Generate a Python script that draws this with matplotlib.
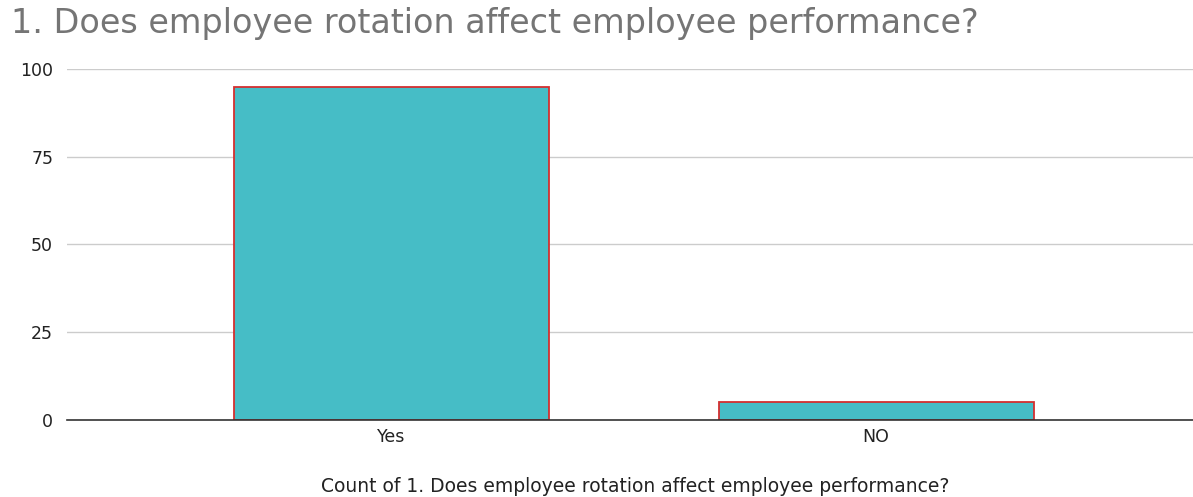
import matplotlib.pyplot as plt

# data
categories = ["Yes", "NO"]
counts = [95, 5]
yticks = [0, 25, 50, 75, 100]

plt.rcParams['font.family'] = ['DejaVu Sans']

fig = plt.figure(figsize=(11.93, 4.97), dpi=100)
ax = fig.add_axes([0.0562, 0.1549, 0.9438, 0.7063])

x = range(len(categories))
ax.bar(x, counts, width=0.65, color='#46BDC6', edgecolor='#D32F2F', linewidth=1.3, zorder=3)

ax.set_xlim(-0.67, 1.654)
ax.set_ylim(0, 100)
ax.set_yticks(yticks)
ax.set_xticks(list(x))
ax.set_xticklabels(categories)
ax.tick_params(axis='both', length=0, labelsize=12.5, colors='#222222')
ax.tick_params(axis='y', pad=10)
ax.tick_params(axis='x', pad=6)

ax.grid(axis='y', color='#cccccc', linewidth=1, zorder=0)
for s in ['top', 'right', 'left']:
    ax.spines[s].set_visible(False)
ax.spines['bottom'].set_color('#333333')
ax.spines['bottom'].set_linewidth(1.2)
ax.spines['bottom'].set_zorder(4)

ax.set_xlabel("Count of 1. Does employee rotation affect employee performance?",
              fontsize=13.5, color='#222222', va='baseline')
ax.xaxis.set_label_coords(0.505, -0.205)

fig.text(0.009, 1 - 33 / 497, "1. Does employee rotation affect employee performance?",
         fontsize=24, color='#757575', ha='left', va='baseline')

plt.savefig("out.png", dpi=100)
